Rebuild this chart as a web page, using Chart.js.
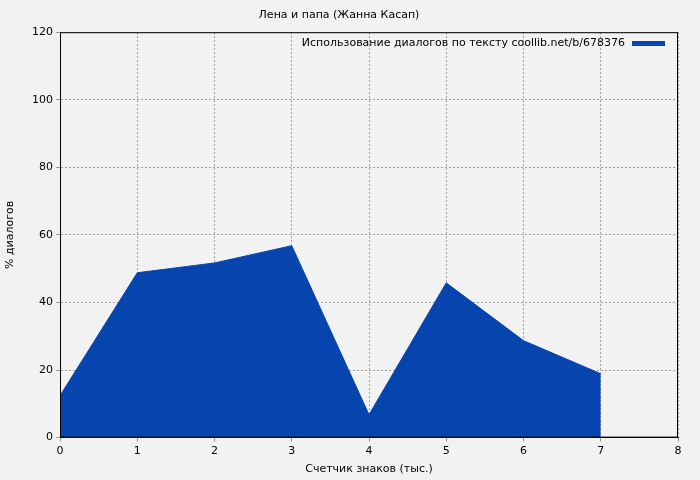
<!DOCTYPE html>
<html><head><meta charset="utf-8">
<script src="https://cdn.jsdelivr.net/npm/chart.js@4"></script>
<style>html,body{margin:0;background:#f2f2f2}#w{width:700px;height:480px}</style>
</head><body><div id="w"><canvas id="c" width="700" height="480"></canvas></div>
<script>
const xValues=[0,1,2,3,4,5,6,7];
const yValues=[12.4,48.8,51.7,56.8,6.8,45.8,28.7,18.9];
const titleText="Лена и папа (Жанна Касап)";
const legendText="Использование диалогов по тексту coollib.net/b/678376";
const xTitle="Счетчик знаков (тыс.)";
const yTitle="% диалогов";
const F="DejaVu Sans";
const legendPlugin={id:'lg',afterDraw(ch){const c=ch.ctx,a=ch.chartArea;c.save();c.font="11px "+F;c.fillStyle="#000";c.textAlign="right";c.textBaseline="middle";c.fillText(legendText,a.right-53,43);c.fillStyle="#0645ad";c.fillRect(a.right-46,41,33,5);c.restore();}};
new Chart(document.getElementById('c'),{type:'line',
data:{datasets:[{data:xValues.map((x,i)=>({x:x,y:yValues[i]})),fill:'origin',backgroundColor:'#0645ad',borderColor:'#0645ad',borderWidth:1,pointRadius:0,tension:0}]},
options:{responsive:false,animation:false,
layout:{padding:{left:0,right:22,top:0,bottom:0}},
plugins:{legend:{display:false},tooltip:{enabled:false},
title:{display:true,text:titleText,font:{family:F,size:11,weight:'normal'},color:'#000',padding:{top:9,bottom:10}}},
scales:{
x:{type:'linear',min:0,max:8,ticks:{stepSize:1,font:{family:F,size:11},color:'#000'},grid:{color:'#999',tickLength:4,drawTicks:true},border:{color:'#000',dash:[2,2]},
title:{display:true,text:xTitle,font:{family:F,size:11},color:'#000',padding:{top:2,bottom:4}}},
y:{min:0,max:120,ticks:{stepSize:20,font:{family:F,size:11},color:'#000'},grid:{color:'#999',tickLength:4},border:{color:'#000',dash:[2,2]},
title:{display:true,text:yTitle,font:{family:F,size:11},color:'#000'},afterFit(s){s.width=60;}}
}},
plugins:[legendPlugin,{id:'bd',beforeDraw(ch){const c=ch.ctx;c.save();c.fillStyle='#f2f2f2';c.fillRect(0,0,700,480);c.restore();},afterDraw(ch){const c=ch.ctx,a=ch.chartArea;c.save();c.strokeStyle='#000';c.lineWidth=1;c.strokeRect(a.left+0.5,a.top+0.5,a.width-1,a.height-1);c.restore();}}]
});
</script></body></html>
